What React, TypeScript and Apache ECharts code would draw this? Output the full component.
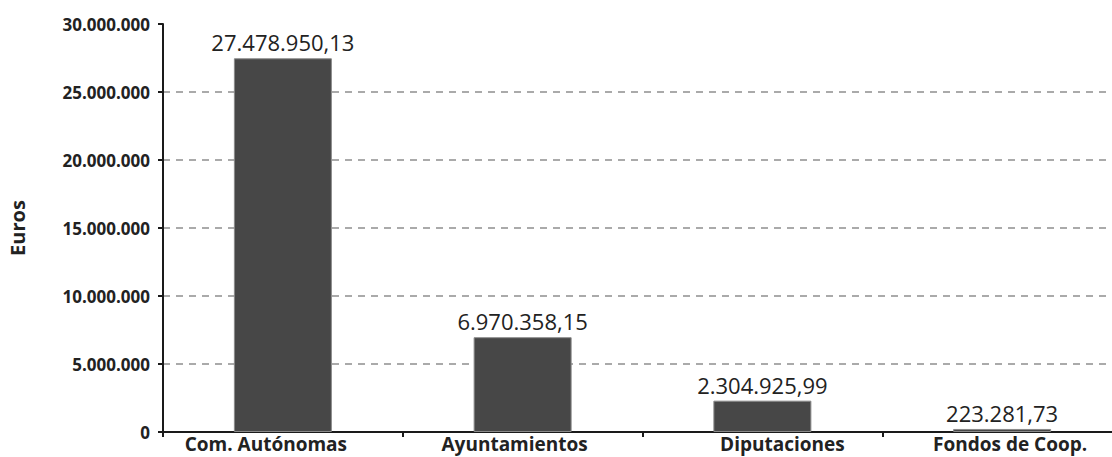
import React, { useEffect, useRef } from "react";
import * as echarts from "echarts";

const categories = ["Com. Autónomas", "Ayuntamientos", "Diputaciones", "Fondos de Coop."];
const values = [27478950.13, 6970358.15, 2304925.99, 223281.73];
const yTicks = { min: 0, max: 30000000, interval: 5000000 };
const axisName = "Euros";

// horizontal nudge of each category label (px), as seen in the reference
const labelShift = [-17, -8, 20, 8];

const fmtInt = (v: number) => String(Math.round(v)).replace(/\B(?=(\d{3})+(?!\d))/g, ".");
const fmtDec = (v: number) => {
  const [i, d] = v.toFixed(2).split(".");
  return i.replace(/\B(?=(\d{3})+(?!\d))/g, ".") + "," + d;
};

export default function App() {
  const ref = useRef<HTMLDivElement>(null);
  useEffect(() => {
    if (!ref.current) return;
    const chart = echarts.init(ref.current, undefined, { renderer: "svg" });
    chart.setOption({
      animation: false,
      backgroundColor: "#ffffff",
      textStyle: { fontFamily: "Open Sans" },
      grid: { left: 163, right: -10, top: 24, bottom: 25, outerBoundsMode: "none", containLabel: false },
      xAxis: {
        type: "category",
        data: categories.map((c, i) => {
          const s = labelShift[i];
          return {
            value: c,
            textStyle: { padding: s < 0 ? [0, -2 * s, 0, 0] : [0, 0, 0, 2 * s] },
          };
        }),
        axisLine: { show: true, lineStyle: { color: "#1a1a1a", width: 2 } },
        axisTick: { show: true, length: 5, lineStyle: { color: "#1a1a1a", width: 2 } },
        axisLabel: {
          color: "#222",
          fontFamily: "Open Sans",
          fontWeight: "bold",
          fontSize: 19,
          lineHeight: 19,
          margin: 2,
          interval: 0,
        },
      },
      yAxis: {
        type: "value",
        min: yTicks.min,
        max: yTicks.max,
        interval: yTicks.interval,
        name: axisName,
        nameLocation: "middle",
        nameRotate: 90,
        nameGap: 136,
        nameTextStyle: { color: "#222", fontFamily: "Open Sans", fontWeight: "bold", fontSize: 20 },
        axisLine: { show: true, lineStyle: { color: "#1a1a1a", width: 2 } },
        axisTick: { show: true, length: 5, lineStyle: { color: "#1a1a1a", width: 2 } },
        axisLabel: {
          color: "#222",
          fontFamily: "Open Sans",
          fontWeight: "bold",
          fontSize: 17,
          margin: 13,
          formatter: (v: number) => fmtInt(v),
        },
        splitLine: {
          show: true,
          showMinLine: false,
          showMaxLine: false,
          lineStyle: { color: "#aaaaaa", width: 2, type: [7, 6] },
        },
      },
      series: [
        {
          type: "bar",
          data: values,
          barWidth: 98,
          itemStyle: { color: "#474747", borderColor: "#8a8a8a", borderWidth: 1 },
          label: {
            show: true,
            position: "top",
            distance: 5,
            color: "#222",
            fontFamily: "Open Sans",
            fontSize: 22,
            formatter: (p: any) => fmtDec(p.value),
          },
        },
      ],
    });
    return () => chart.dispose();
  }, []);
  return (
    <div
      ref={ref}
      style={{ position: "absolute", left: 0, top: 0, width: 1112, height: 457, overflow: "hidden" }}
    />
  );
}
